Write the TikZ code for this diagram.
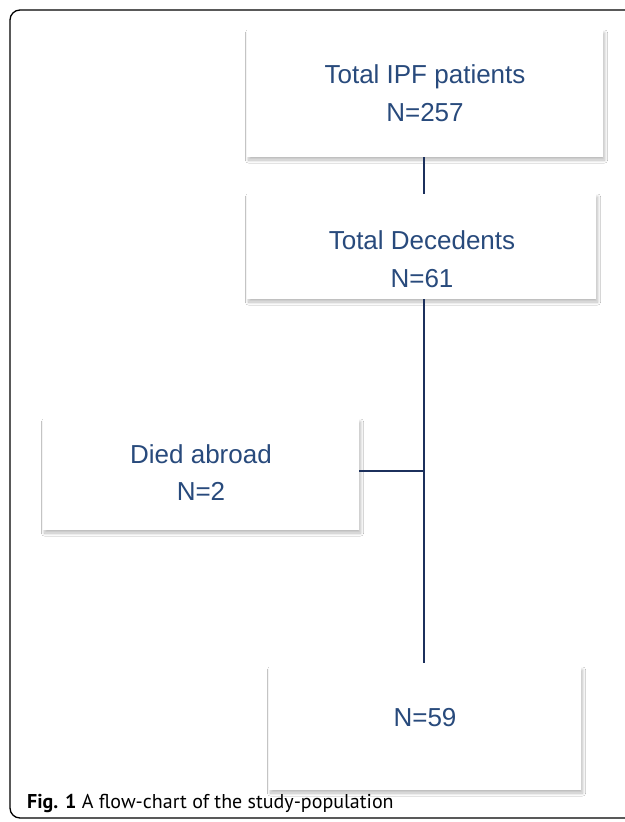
\documentclass[tikz,border=0pt]{standalone}
\usepackage{fontspec}
\setmainfont{Liberation Sans}
\newfontfamily\capfont{PT Sans}
\usetikzlibrary{shadows.blur}
\definecolor{txtblue}{RGB}{40,74,124}
\definecolor{linenavy}{RGB}{28,48,92}
\begin{document}
\begin{tikzpicture}[x=1pt,y=-1pt,
  box/.style={rectangle, fill=white, inner sep=0pt,
    blur shadow={shadow xshift=1.5pt, shadow yshift=-3pt, shadow blur radius=3pt, shadow blur steps=16, shadow opacity=28}},
  lbl/.style={anchor=base, text=txtblue, font=\fontsize{26}{30}\selectfont, inner sep=0pt},
  conn/.style={draw=linenavy, line width=1.8pt}]
\useasboundingbox (0,0) rectangle (624,822);
\fill[white] (0,0) rectangle (624,822);
\draw[line width=1.3pt, rounded corners=10pt] (640,10) -- (10,10) -- (10,818) -- (640,818);
% boxes
\node[box, minimum width=356pt, minimum height=127pt] (b1) at (425,93.5) {};
\node[box, minimum width=349pt, minimum height=105pt] (b2) at (421.5,246.5) {};
\node[box, minimum width=316pt, minimum height=111pt] (b3) at (201,474.5) {};
\node[box, minimum width=312pt, minimum height=123pt] (b4) at (425,728.5) {};
% texts
\node[lbl] (t1a) at (425,83) {Total IPF patients};
\node[lbl] (t1b) at (425,121) {N=257};
\node[lbl] (t2a) at (422,249) {Total Decedents};
\node[lbl] (t2b) at (422,287) {N=61};
\node[lbl] (t3a) at (201,463) {Died abroad};
\node[lbl] (t3b) at (201,500) {N=2};
\node[lbl] (t4a) at (425,726) {N=59};
% connectors
\coordinate (top1) at (424,157);
\coordinate (top2) at (424,194);
\coordinate (j) at (424,471);
\coordinate (bot) at (424,663);
\draw[conn] (top1) -- (top2);
\draw[conn] (424,299) -- (bot);
\draw[conn] (b3.east |- j) -- (j);
% caption
\node[anchor=base west, inner sep=0pt, font=\capfont\fontsize{20}{24}\selectfont] (cap) at (27,808)
  {\textbf{Fig. 1} A flow-chart of the study-population};
\end{tikzpicture}
\end{document}
